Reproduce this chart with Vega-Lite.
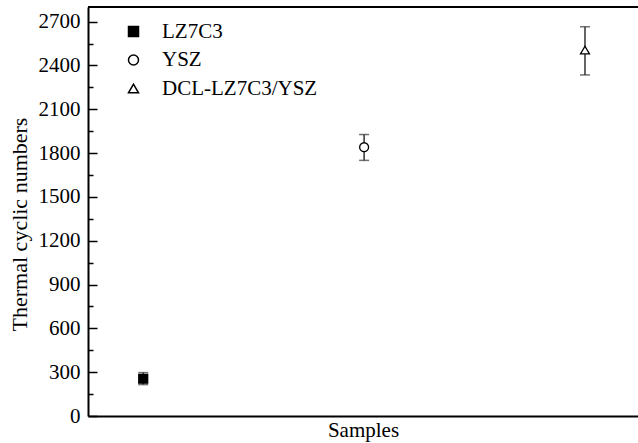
{
  "$schema": "https://vega.github.io/schema/vega-lite/v6.json",
  "width": 550,
  "height": 409,
  "autosize": "none",
  "padding": {"left": 88, "top": 7, "right": 0, "bottom": 27},
  "background": "white",
  "config": {
    "view": {"stroke": null},
    "font": "Liberation Serif",
    "axis": {"grid": false}
  },
  "data": {
    "values": [
      {"sample": "LZ7C3", "pos": 1, "mean": 255, "lo": 215, "hi": 297},
      {"sample": "YSZ", "pos": 2, "mean": 1840, "lo": 1750, "hi": 1927},
      {"sample": "DCL-LZ7C3/YSZ", "pos": 3, "mean": 2505, "lo": 2335, "hi": 2665}
    ]
  },
  "layer": [
    {
      "mark": {"type": "rule", "color": "black", "strokeWidth": 2.2},
      "encoding": {
        "y": {"datum": 2800, "type": "quantitative", "axis": null}
      }
    },
    {
      "mark": {"type": "errorbar", "ticks": {"size": 10, "color": "#333"}, "rule": {"color": "#333"}, "thickness": 1.5},
      "encoding": {
        "x": {
          "field": "pos", "type": "quantitative",
          "scale": {"domain": [0.75, 3.24], "nice": false, "zero": false},
          "axis": {
            "orient": "bottom", "labels": false, "ticks": false,
            "domainColor": "black", "domainWidth": 2,
            "title": "Samples", "titleFont": "Liberation Serif", "titleFontSize": 21,
            "titleFontWeight": "normal", "titleColor": "black", "titlePadding": 3
          }
        },
        "y": {
          "field": "lo", "type": "quantitative",
          "scale": {"domain": [0, 2800], "nice": false, "zero": true},
          "axis": {
            "orient": "left",
            "values": [0, 300, 600, 900, 1200, 1500, 1800, 2100, 2400, 2700],
            "format": "d",
            "tickSize": -9, "tickColor": "black", "tickWidth": 1.5,
            "domainColor": "black", "domainWidth": 2,
            "labelFontSize": 21, "labelFont": "Liberation Serif", "labelColor": "black",
            "labelPadding": 17,
            "title": "Thermal cyclic numbers", "titleFont": "Liberation Serif",
            "titleFontSize": 22, "titleFontWeight": "normal", "titleColor": "black",
            "titleAngle": 270, "titleX": -62, "titleY": 217,
            "titleAlign": "center", "titleBaseline": "alphabetic"
          }
        },
        "y2": {"field": "hi"}
      }
    },
    {
      "mark": {"type": "point", "filled": true, "opacity": 1, "stroke": "black", "strokeWidth": 1.3, "size": 80},
      "encoding": {
        "x": {"field": "pos", "type": "quantitative"},
        "y": {
          "field": "mean", "type": "quantitative",
          "axis": {
            "orient": "left",
            "values": [150, 450, 750, 1050, 1350, 1650, 1950, 2250, 2550],
            "tickSize": -5, "tickColor": "black", "tickWidth": 1.5,
            "labels": false, "domain": false, "title": null
          }
        },
        "shape": {
          "field": "sample", "type": "nominal",
          "scale": {"domain": ["LZ7C3", "YSZ", "DCL-LZ7C3/YSZ"], "range": ["square", "circle", "triangle-up"]},
          "legend": {
            "title": null, "orient": "none", "legendX": 35, "legendY": 14,
            "padding": 0, "labelFontSize": 21, "labelFont": "Liberation Serif", "labelColor": "black",
            "labelOffset": 18, "rowPadding": 6.5,
            "encode": {
              "symbols": {
                "size": {"value": 64},
                "stroke": {"value": "#222"},
                "strokeWidth": {"value": 1.3}
              }
            }
          }
        },
        "fill": {
          "field": "sample", "type": "nominal",
          "scale": {"domain": ["LZ7C3", "YSZ", "DCL-LZ7C3/YSZ"], "range": ["black", "white", "white"]},
          "legend": {
            "title": null, "orient": "none", "legendX": 35, "legendY": 14,
            "padding": 0, "labelFontSize": 21, "labelFont": "Liberation Serif", "labelColor": "black",
            "labelOffset": 18, "rowPadding": 6.5,
            "encode": {
              "symbols": {
                "size": {"value": 64},
                "stroke": {"value": "#222"},
                "strokeWidth": {"value": 1.3}
              }
            }
          }
        }
      }
    }
  ],
  "resolve": {"axis": {"y": "independent"}}
}
